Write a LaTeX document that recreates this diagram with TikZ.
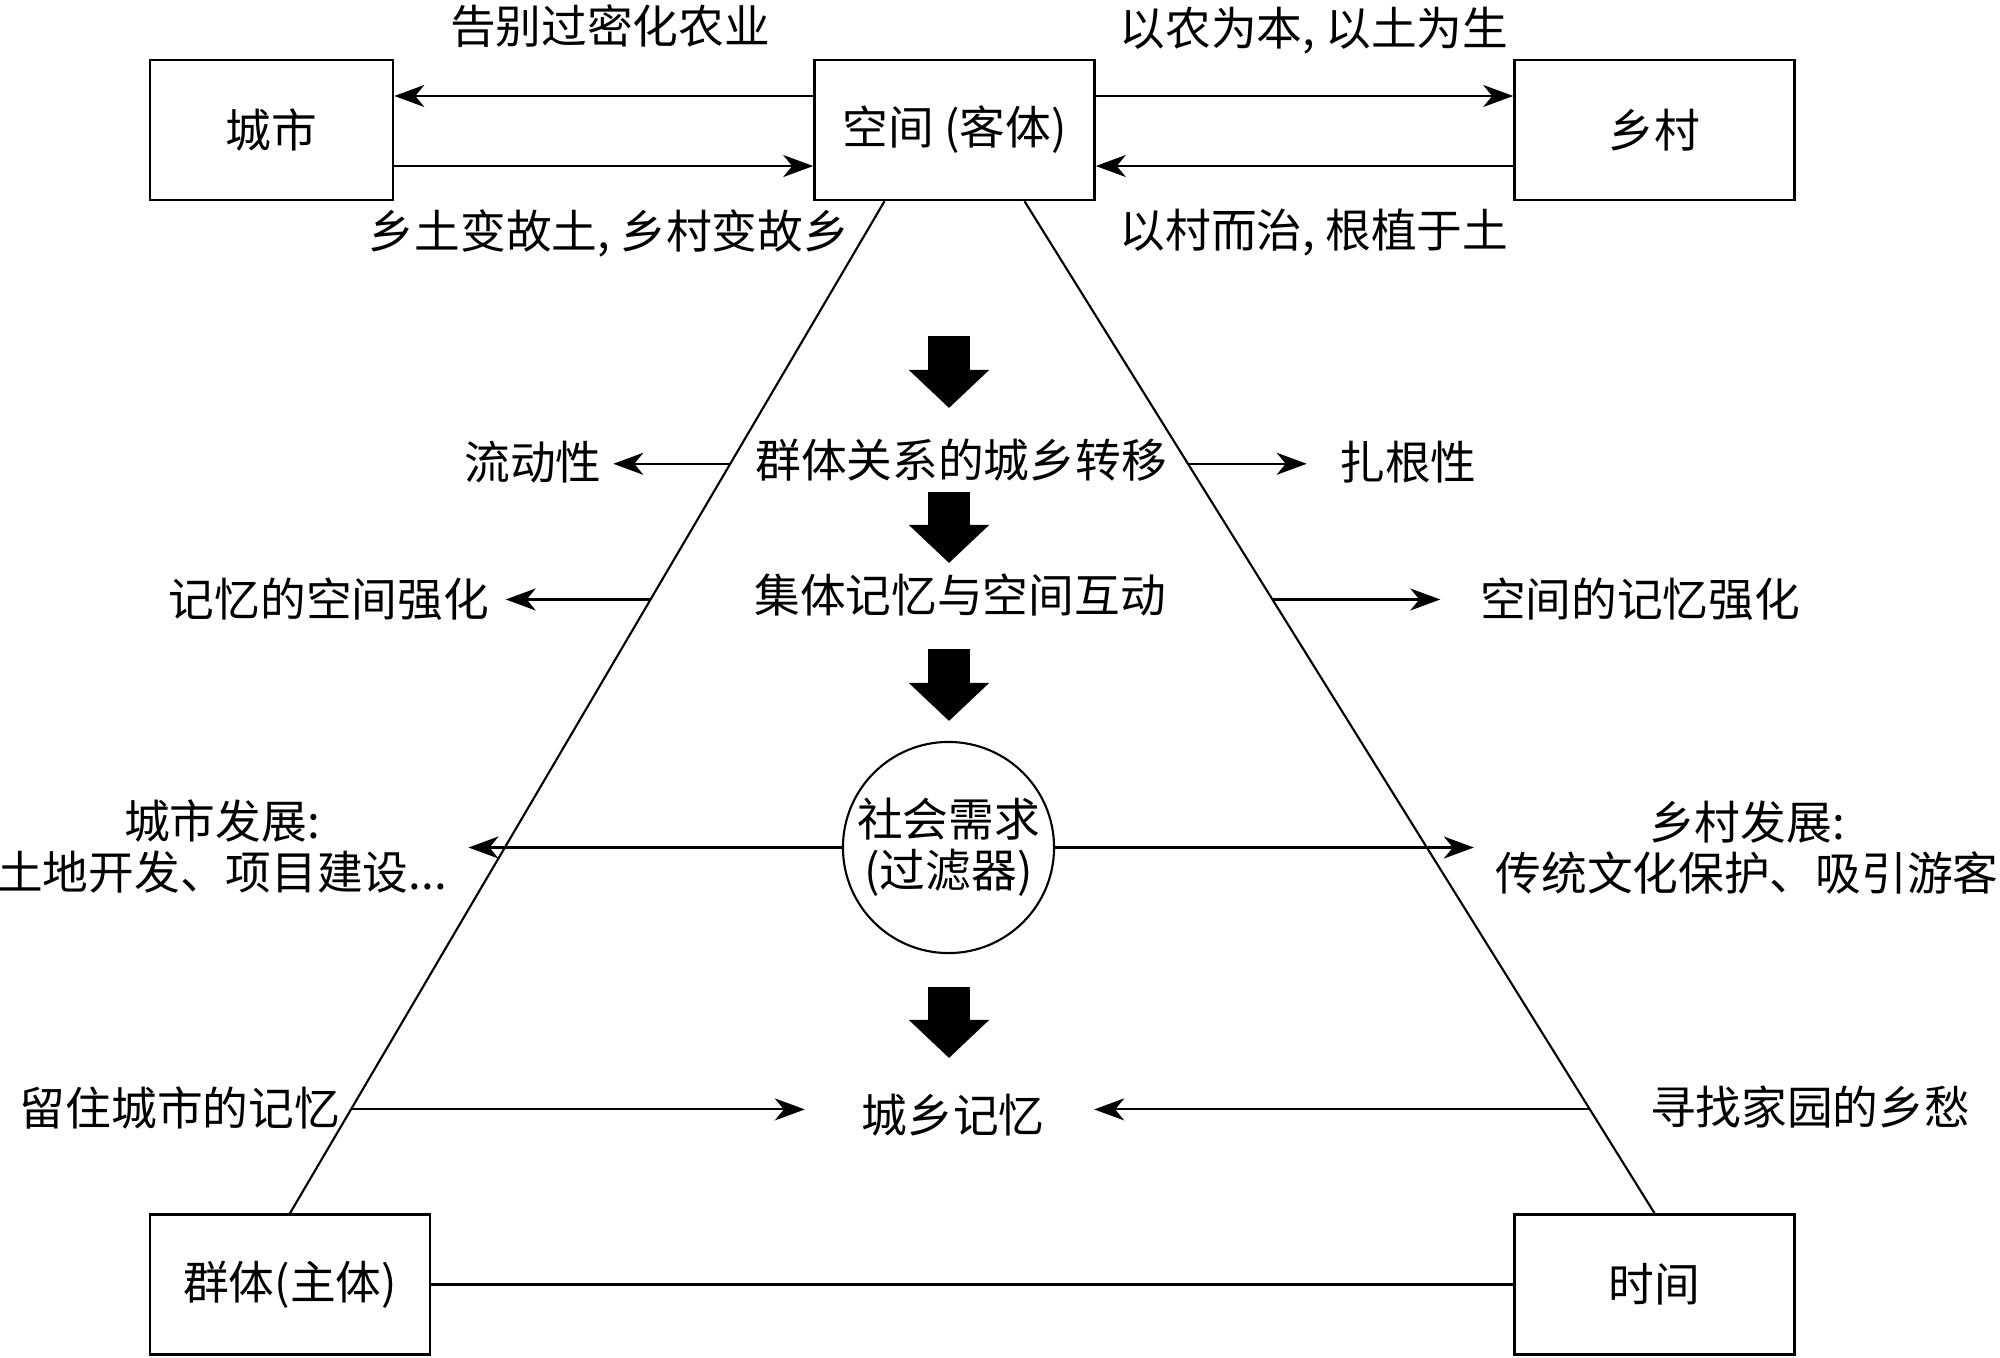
\documentclass[tikz,border=0pt]{standalone}
\usepackage{fontspec}
\setmainfont{Noto Sans CJK SC}
\usetikzlibrary{arrows.meta,calc}

\begin{document}
\begin{tikzpicture}[x=0.01cm, y=-0.01cm,
  every node/.style={font=\fontsize{13pt}{14.5pt}\selectfont},
  box/.style={rectangle, draw, line width=0.7pt, minimum width=2.8cm, minimum height=1.4cm},
  lbl/.style={inner sep=0pt, align=center},
  arr/.style={-{Stealth[length=0.3cm, width=0.22cm, inset=0.09cm]}, line width=0.6pt},
  bigarr/.style={line width=0.42cm, -{Triangle[length=0.38cm 0 0, width=0.78cm 0 0]}}]
\useasboundingbox (0,0) rectangle (2000,1357);

\node[box, minimum width=2.43cm] (city) at (271.5,130) {城市};
\node[box] (space) at (954.5,130) {空间 (客体)};
\node[box] (village) at (1654.5,130) {乡村};
\node[box] (group) at (290,1284.5) {群体(主体)};
\node[box] (time) at (1654.5,1284.5) {时间};

\node[lbl] (farewell) at (610,26) {告别过密化农业};
\node[lbl] (oldhome) at (609,233) {乡土变故土, 乡村变故乡};
\node[lbl] (agri) at (1314,31) {以农为本, 以土为生};
\node[lbl] (rooted) at (1314,233) {以村而治, 根植于土};

\draw[arr] ([yshift=0.34cm]space.west) -- ([yshift=0.34cm]city.east);
\draw[arr] ([yshift=-0.36cm]city.east) -- ([yshift=-0.36cm]space.west);
\draw[arr] ([yshift=0.34cm]space.east) -- ([yshift=0.34cm]village.west);
\draw[arr] ([yshift=-0.36cm]village.west) -- ([yshift=-0.36cm]space.east);

\coordinate (lt) at ([xshift=-0.7cm]space.south);
\coordinate (rt) at ([xshift=0.7cm]space.south);
\draw[line width=0.6pt] (lt) -- (group.north);
\draw[line width=0.6pt] (rt) -- (time.north);
\draw[line width=0.6pt] (group) -- (time);

\coordinate (lmob) at ($(lt)!0.2594!(group.north)$);
\coordinate (rmob) at ($(rt)!0.2594!(time.north)$);
\coordinate (lspc) at ($(lt)!0.3935!(group.north)$);
\coordinate (rspc) at ($(rt)!0.3935!(time.north)$);
\coordinate (lmem) at ($(lt)!0.8974!(group.north)$);
\coordinate (rmem) at ($(rt)!0.8974!(time.north)$);

\foreach \t/\b in {336/408, 492/563, 649/721, 987/1058}
  \draw[bigarr] (949,\t) -- (949,\b);

\node[lbl] (transfer) at (961,460) {群体关系的城乡转移};
\node[lbl] (interact) at (960,595) {集体记忆与空间互动};
\node[lbl] (mobility) at (533,462) {流动性};
\node[lbl] (rooting) at (1408,462) {扎根性};
\node[lbl] (memspace) at (329,599) {记忆的空间强化};
\node[lbl] (spacemem) at (1640,599) {空间的记忆强化};
\node[draw, circle, line width=0.6pt, minimum size=2.11cm, inner sep=0pt, align=center] (filter) at (948.5,847.5) {社会需求\\(过滤器)};
\node[lbl] (urban) at (222,847) {城市发展:\\土地开发、项目建设...};
\node[lbl] (rural) at (1747,848) {乡村发展:\\传统文化保护、吸引游客};
\node[lbl] (memory) at (953,1115) {城乡记忆};
\node[lbl] (keep) at (180,1108) {留住城市的记忆};
\node[lbl] (seek) at (1810,1107) {寻找家园的乡愁};

\draw[arr, shorten >=0.11cm] (lmob) -- (lmob -| mobility.east);
\draw[arr, shorten >=0.32cm] (rmob) -- (rmob -| rooting.west);
\draw[arr, shorten >=0.16cm] (lspc) -- (lspc -| memspace.east);
\draw[arr, shorten >=0.39cm] (rspc) -- (rspc -| spacemem.west);
\draw[arr, shorten >=0.21cm] (filter) -- (filter -| urban.east);
\draw[arr, shorten >=0.21cm] (filter) -- (filter -| rural.west);
\draw[arr, shorten >=0.56cm] (lmem) -- (lmem -| memory.west);
\draw[arr, shorten >=0.49cm] (rmem) -- (rmem -| memory.east);
\end{tikzpicture}
\end{document}
